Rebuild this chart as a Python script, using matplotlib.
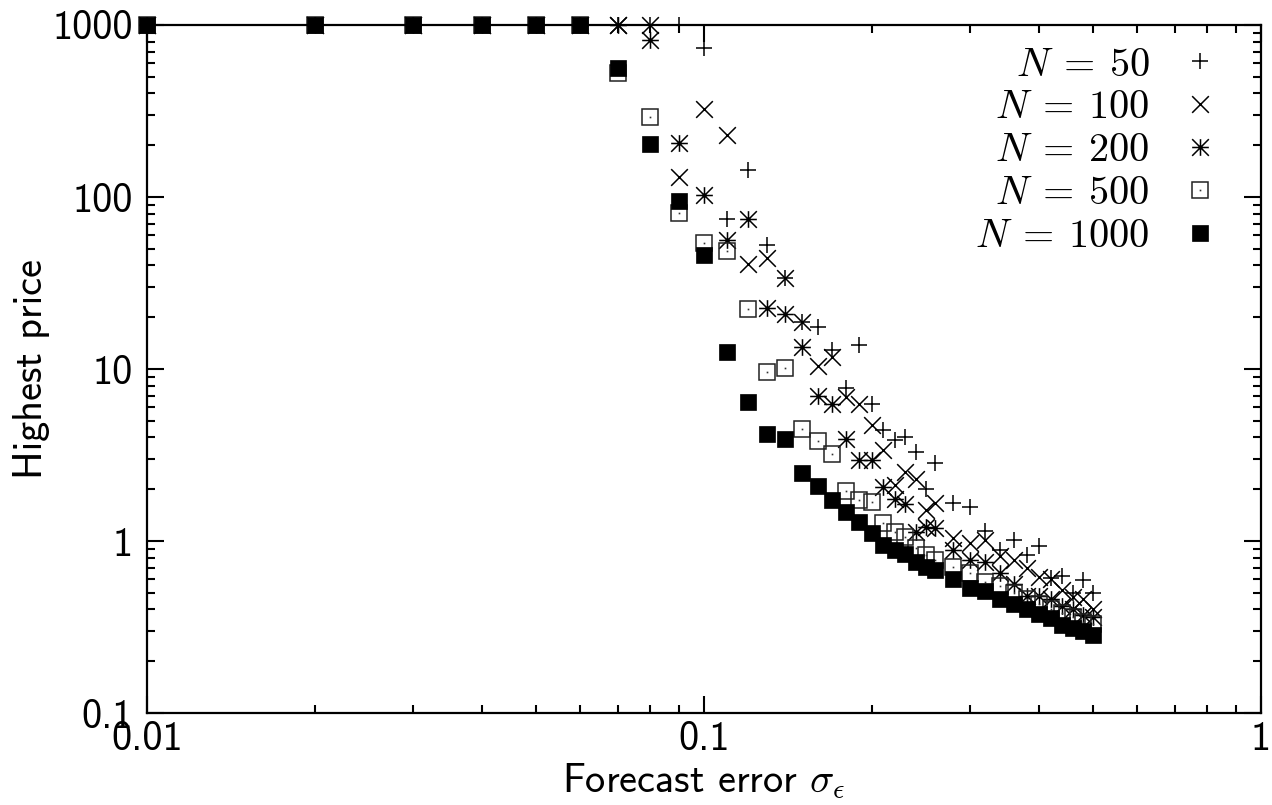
import os
import numpy as np
import matplotlib
matplotlib.use('Agg')
import matplotlib.pyplot as plt
from matplotlib.path import Path
from matplotlib.legend_handler import HandlerTuple
from matplotlib.font_manager import FontProperties

plt.rcParams['mathtext.fontset'] = 'cm'

sigma = [0.01, 0.02, 0.03, 0.04, 0.05, 0.06, 0.07, 0.08, 0.09, 0.10,
         0.11, 0.12, 0.13, 0.14, 0.15, 0.16, 0.17, 0.18, 0.19, 0.20,
         0.21, 0.22, 0.23, 0.24, 0.25, 0.26, 0.28, 0.30, 0.32, 0.34,
         0.36, 0.38, 0.40, 0.42, 0.44, 0.46, 0.48, 0.50]

price_n50 = [1000, 1000, 1000, 1000, 1000, 1000, 1000, 1000, 1000, 735,
             74.5, 144, 52.6, 34, 18.7, 17.5, 12.9, 7.8, 13.8, 6.3,
             4.4, 3.87, 4.0, 3.3, 2.0, 2.84, 1.66, 1.58, 1.15, 0.89,
             1.01, 0.83, 0.93, 0.61, 0.63, 0.50, 0.59, 0.50]
price_n100 = [1000, 1000, 1000, 1000, 1000, 1000, 1000, 1000, 131, 325,
              229, 41, 44, 34, 18.7, 10.4, 11.8, 6.9, 6.3, 4.7,
              3.4, 2.12, 2.52, 2.29, 1.51, 1.66, 1.04, 0.97, 1.02, 0.82,
              0.78, 0.70, 0.62, 0.60, 0.52, 0.47, 0.46, 0.40]
price_n200 = [1000, 1000, 1000, 1000, 1000, 1000, 1000, 818, 206, 103,
              56, 74.5, 22.6, 21, 13.4, 7.0, 6.3, 3.9, 2.96, 2.96,
              2.06, 1.75, 1.64, 1.13, 1.2, 1.19, 0.89, 0.78, 0.75, 0.65,
              0.56, 0.48, 0.48, 0.46, 0.42, 0.40, 0.37, 0.36]
price_n500 = [1000, 1000, 1000, 1000, 1000, 1000, 525, 292, 81, 54,
              48.5, 22.3, 9.6, 10.1, 4.5, 3.8, 3.2, 1.95, 1.73, 1.69,
              1.27, 1.13, 1.05, 0.91, 0.83, 0.78, 0.71, 0.65, 0.58, 0.55,
              0.50, 0.46, 0.43, 0.40, 0.38, 0.36, 0.34, 0.33]
price_n1000 = [1000, 1000, 1000, 1000, 1000, 1000, 562, 203, 95, 46,
               12.5, 6.4, 4.2, 3.9, 2.5, 2.1, 1.72, 1.48, 1.29, 1.11,
               0.95, 0.89, 0.84, 0.75, 0.71, 0.68, 0.605, 0.53, 0.51, 0.457,
               0.433, 0.405, 0.374, 0.355, 0.325, 0.31, 0.30, 0.285]

labels = [r'$N\:=\:50$', r'$N\:=\:100$', r'$N\:=\:200$', r'$N\:=\:500$', r'$N\:=\:1000$']

xticks = [0.01, 0.1, 1]
xticklabels = ['0.01', '0.1', '1']
yticks = [0.1, 1, 10, 100, 1000]
yticklabels = ['0.1', '1', '10', '100', '1000']

fs = 29
cmss_path = os.path.join(matplotlib.get_data_path(), 'fonts', 'ttf', 'cmss10.ttf')
if os.path.exists(cmss_path):
    sans = FontProperties(fname=cmss_path, size=fs)
else:
    sans = FontProperties(family='DejaVu Sans', size=fs)

M = Path.MOVETO
L = Path.LINETO
plus_marker = Path([(-1, 0), (1, 0), (0, -1), (0, 1)], [M, L, M, L])
cross_marker = Path([(-1, -1), (1, 1), (-1, 1), (1, -1)], [M, L, M, L])
star_marker = Path([(-1, 0), (1, 0), (0, -1), (0, 1),
                    (-1, -1), (1, 1), (-1, 1), (1, -1)],
                   [M, L, M, L, M, L, M, L])

fig = plt.figure(figsize=(12.72, 8.05), dpi=100)
ax = fig.add_axes([147 / 1272, 1 - 713 / 805, (1261 - 147) / 1272, (713 - 25) / 805])

ms = 12
mew = 1.1
common = dict(linestyle='none', clip_on=False, color='black')

h50, = ax.plot(sigma, price_n50, marker=plus_marker, ms=ms, mew=mew, mfc='none', **common)
h100, = ax.plot(sigma, price_n100, marker=cross_marker, ms=ms, mew=mew, mfc='none', **common)
h200, = ax.plot(sigma, price_n200, marker=star_marker, ms=ms, mew=mew, mfc='none', **common)
h500, = ax.plot(sigma, price_n500, marker='s', ms=ms, mew=mew, mfc='none', mec='#222222', **common)
h500d, = ax.plot(sigma, price_n500, marker='s', ms=1.2, mew=0, mfc='#333333', **common)
h1000, = ax.plot(sigma, price_n1000, marker='s', ms=ms, mew=0.5, mfc='black', **common)

ax.set_xscale('log')
ax.set_yscale('log')
ax.set_xlim(0.01, 1)
ax.set_ylim(0.1, 1000)

ax.set_xticks(xticks)
ax.set_xticklabels(xticklabels, fontproperties=sans)
ax.set_yticks(yticks)
ax.set_yticklabels(yticklabels, fontproperties=sans)
ax.tick_params(which='both', direction='in', top=True, right=True, width=1.5)
ax.tick_params(which='major', length=12, pad=6)
ax.tick_params(which='minor', length=6)
ax.tick_params(axis='y', which='major', pad=10)
for s in ax.spines.values():
    s.set_linewidth(1.6)

ax.set_xlabel(r'Forecast error $\sigma_{\epsilon}$', fontproperties=sans, labelpad=2)
ax.set_ylabel('Highest price', fontproperties=sans, labelpad=2)

leg = ax.legend([h50, h100, h200, (h500, h500d), h1000], labels,
                handler_map={tuple: HandlerTuple(ndivide=1)},
                loc='upper right', bbox_to_anchor=(0.978, 0.995),
                frameon=False, markerfirst=False, numpoints=1,
                handlelength=1.0, handletextpad=0.75, labelspacing=0.07,
                fontsize=fs, borderaxespad=0)

fig.savefig('out.png', dpi=100)
